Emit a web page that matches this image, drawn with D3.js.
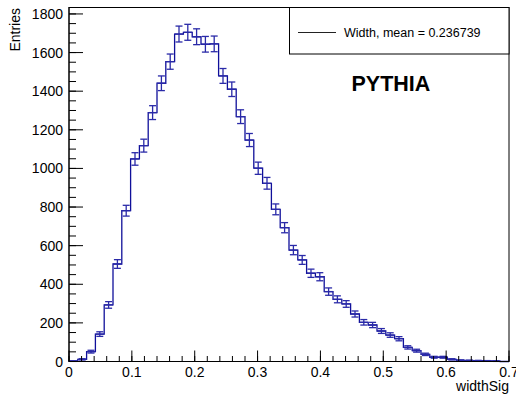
<!DOCTYPE html>
<html>
<head>
<meta charset="utf-8">
<script src="https://cdn.jsdelivr.net/npm/d3@7"></script>
<style>
  html, body { margin: 0; padding: 0; background: #fff; }
  svg { display: block; }
  text { font-family: "Liberation Sans", Arial, Helvetica, sans-serif; fill: #000; }
</style>
</head>
<body>
<svg id="chart" width="516" height="394"></svg>
<script>
// ---- data ----
const binLow = 0.0;
const binWidth = 0.014;
const counts = [2, 11, 51, 142, 293, 505, 781, 1049, 1118, 1289,
                1441, 1553, 1696, 1705, 1682, 1643, 1645, 1479, 1410, 1268,
                1147, 1001, 923, 788, 693, 577, 526, 457, 439, 362,
                322, 298, 246, 203, 189, 158, 137, 118, 73, 56,
                37, 22, 22, 11, 6, 5, 4, 3, 2, 0];
const xTickValues = [0, 0.1, 0.2, 0.3, 0.4, 0.5, 0.6, 0.7];
const yTickValues = [0, 200, 400, 600, 800, 1000, 1200, 1400, 1600, 1800];
const legendLabel = "Width, mean = 0.236739";
const tagLabel = "PYTHIA";
const xTitle = "widthSig";
const yTitle = "Entries";
const xMax = 0.7;
const yMax = 1836;

// ---- layout ----
const svg = d3.select("#chart");
const pLeft = 69, pRight = 509, pTop = 7, pBottom = 361.5;
const x = d3.scaleLinear().domain([0, xMax]).range([pLeft, pRight]);
const y = d3.scaleLinear().domain([0, yMax]).range([pBottom, pTop]);

const histColor = "#10109a";
const errColor = "#2a2aa8";

// frame
svg.append("rect")
  .attr("x", pLeft).attr("y", pTop + 0.5)
  .attr("width", pRight - pLeft).attr("height", pBottom - pTop - 0.5)
  .attr("fill", "none").attr("stroke", "#000").attr("stroke-width", 1);

// histogram step line
const bins = counts.map((c, i) => ({
  x0: binLow + i * binWidth,
  x1: binLow + (i + 1) * binWidth,
  c: c
}));
let pathD = `M${x(bins[0].x0)},${y(0)}`;
bins.forEach(b => {
  pathD += `L${x(b.x0)},${y(b.c)}L${x(b.x1)},${y(b.c)}`;
});
pathD += `L${x(bins[bins.length - 1].x1)},${y(0)}`;
svg.append("path")
  .attr("d", pathD)
  .attr("fill", "none")
  .attr("stroke", histColor)
  .attr("stroke-width", 1.3);

// error bars
const eg = svg.append("g").attr("stroke", errColor).attr("stroke-width", 1.3).attr("fill", "none");
bins.forEach(b => {
  if (b.c <= 0) return;
  const e = Math.sqrt(b.c);
  const cx = x((b.x0 + b.x1) / 2);
  const yl = y(b.c - e), yh = y(b.c + e), yc = y(b.c);
  eg.append("line").attr("x1", x(b.x0)).attr("x2", x(b.x1)).attr("y1", yc).attr("y2", yc);
  eg.append("line").attr("x1", cx).attr("x2", cx).attr("y1", yl).attr("y2", yh);
  eg.append("line").attr("x1", cx - 3.5).attr("x2", cx + 3.5).attr("y1", yl).attr("y2", yl);
  eg.append("line").attr("x1", cx - 3.5).attr("x2", cx + 3.5).attr("y1", yh).attr("y2", yh);
});

// x axis
const xAxisG = svg.append("g").attr("transform", `translate(0,${pBottom})`);
const xMinor = d3.range(0, xMax + 1e-9, 0.02);
xAxisG.selectAll("line.minor").data(xMinor).enter().append("line")
  .attr("x1", d => x(d)).attr("x2", d => x(d))
  .attr("y1", 0).attr("y2", -5.5).attr("stroke", "#000");
xAxisG.selectAll("line.major").data(xTickValues).enter().append("line")
  .attr("x1", d => x(d)).attr("x2", d => x(d))
  .attr("y1", 0).attr("y2", -11).attr("stroke", "#000");
xAxisG.append("line").attr("x1", pLeft).attr("x2", pRight).attr("y1", 0).attr("y2", 0).attr("stroke", "#000");
xAxisG.selectAll("text").data(xTickValues).enter().append("text")
  .attr("x", d => x(d)).attr("y", 15.5)
  .attr("text-anchor", "middle")
  .attr("font-size", "14px")
  .text(d => d3.format("")(d));

// y axis
const yAxisG = svg.append("g").attr("transform", `translate(${pLeft},0)`);
const yMinor = d3.range(0, yMax, 50);
yAxisG.selectAll("line.minor").data(yMinor).enter().append("line")
  .attr("x1", 0).attr("x2", 7)
  .attr("y1", d => y(d)).attr("y2", d => y(d)).attr("stroke", "#000");
yAxisG.selectAll("line.major").data(yTickValues).enter().append("line")
  .attr("x1", 0).attr("x2", 14)
  .attr("y1", d => y(d)).attr("y2", d => y(d)).attr("stroke", "#000");
yAxisG.append("line").attr("x1", 0).attr("x2", 0).attr("y1", pTop).attr("y2", pBottom).attr("stroke", "#000");
yAxisG.selectAll("text").data(yTickValues).enter().append("text")
  .attr("x", -6).attr("y", d => y(d) + 5)
  .attr("text-anchor", "end")
  .attr("font-size", "14px")
  .text(d => d);

// axis titles
svg.append("text")
  .attr("x", pRight).attr("y", 390.5)
  .attr("text-anchor", "end")
  .attr("font-size", "14px")
  .text(xTitle);
svg.append("text")
  .attr("transform", `translate(20,${pTop + 1}) rotate(-90)`)
  .attr("text-anchor", "end")
  .attr("font-size", "14px")
  .text(yTitle);

// legend
svg.append("rect")
  .attr("x", 289.5).attr("y", 7.5)
  .attr("width", pRight - 289.5).attr("height", 46.5)
  .attr("fill", "#fff").attr("stroke", "#000").attr("stroke-width", 1);
svg.append("line")
  .attr("x1", 298).attr("x2", 336).attr("y1", 32.5).attr("y2", 32.5)
  .attr("stroke", "#222").attr("stroke-width", 1);
svg.append("text")
  .attr("x", 344).attr("y", 37)
  .attr("font-size", "12.5px")
  .text(legendLabel);

// tag
svg.append("text")
  .attr("x", 351.5).attr("y", 90.5)
  .attr("font-size", "21.5px")
  .attr("font-weight", "bold")
  .text(tagLabel);
</script>
</body>
</html>
